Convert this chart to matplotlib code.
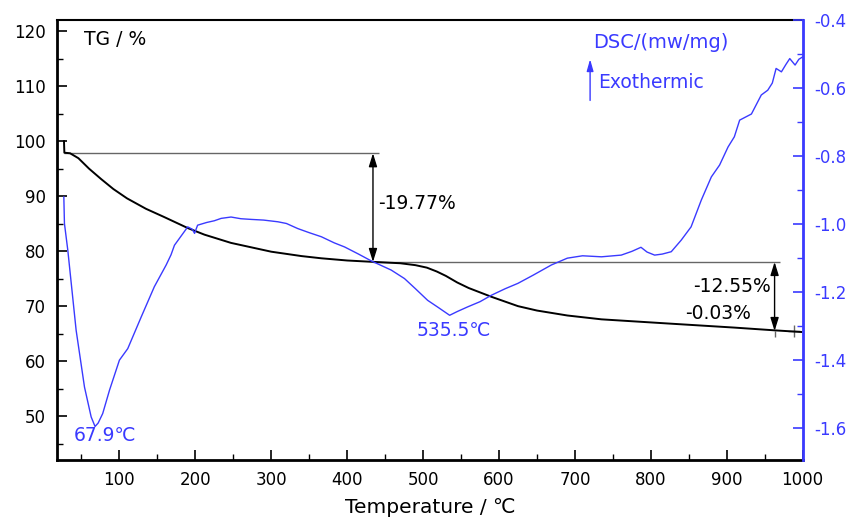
import numpy as np
import matplotlib
matplotlib.use('Agg')
from matplotlib import pyplot as plt
from matplotlib.ticker import MultipleLocator, FormatStrFormatter

# TG curve (mass %)
tg_temp = [27, 27.5, 35, 46, 60, 76, 92, 110, 135, 159, 190, 212, 247, 300, 340,
           366, 400, 434, 470, 490, 505, 518, 530, 545, 560, 590, 625, 650, 690, 735, 822, 910, 963, 998]
tg_mass = [100, 97.9, 97.8, 96.9, 95.0, 93.1, 91.3, 89.6, 87.7, 86.2, 84.2, 83.0, 81.5, 79.9, 79.1,
           78.7, 78.3, 78.05, 77.8, 77.45, 77.0, 76.3, 75.5, 74.3, 73.3, 71.7, 70.0, 69.2, 68.3,
           67.6, 66.85, 66.1, 65.6, 65.3]

# DSC curve (mw/mg)
dsc_temp = [26.8, 27.6, 32, 43, 54, 62.8, 67.9, 72, 78, 87, 100, 111, 128.7, 146, 161.6, 168,
            172.5, 190, 196, 199, 203, 215, 225, 234, 247, 260, 273.6, 290, 308.8, 320, 335,
            350, 366, 383, 396.6, 415, 431.7, 458, 475.5, 490, 506, 520, 535, 545, 559, 575,
            590, 608, 625, 645, 669, 690, 710, 735, 761, 775, 787, 795, 805, 815, 826.9, 840,
            853, 866.5, 879.7, 890.6, 901.7, 910, 917, 932.5, 945.5, 954, 960, 965, 972, 978,
            983, 990, 995, 1000]
dsc_heat = [-0.92, -0.998, -1.076, -1.312, -1.479, -1.567, -1.595, -1.585, -1.557, -1.488, -1.40,
            -1.366, -1.273, -1.184, -1.12, -1.09, -1.062, -1.008, -1.015, -1.027, -1.003, -0.995,
            -0.99, -0.983, -0.979, -0.984, -0.986, -0.988, -0.993, -0.998, -1.013, -1.025, -1.037,
            -1.055, -1.067, -1.088, -1.108, -1.135, -1.16, -1.19, -1.224, -1.245, -1.268, -1.257,
            -1.243, -1.228, -1.209, -1.19, -1.174, -1.15, -1.12, -1.10, -1.093, -1.096, -1.091,
            -1.08, -1.068, -1.082, -1.091, -1.088, -1.081, -1.047, -1.008, -0.929, -0.861, -0.826,
            -0.773, -0.743, -0.694, -0.676, -0.62, -0.606, -0.585, -0.542, -0.552, -0.53, -0.513,
            -0.532, -0.515, -0.508]

# mass levels of the weight-loss steps and their labels
step_levels = [97.8, 78.03, 65.48]
step_labels = ['-19.77%', '-12.55%', '-0.03%']
peak_labels = ['67.9\u2103', '535.5\u2103']

BLUE = '#3a3aff'
GREY = '#666666'

plt.rcParams['font.family'] = ['DejaVu Sans']

fig = plt.figure(figsize=(8.53, 5.17), dpi=100)
ax = fig.add_axes([0.067, 0.110, 0.874, 0.851])
ax2 = ax.twinx()

ax.plot(tg_temp, tg_mass, color='black', lw=1.4, zorder=3)
ax2.plot(dsc_temp, dsc_heat, color=BLUE, lw=1.0, zorder=3)

ax.set_xlim(18, 1000)
ax.set_ylim(42, 122)
ax2.set_ylim(-1.694, -0.4)

ax.xaxis.set_major_locator(MultipleLocator(100))
ax.xaxis.set_minor_locator(MultipleLocator(50))
ax.yaxis.set_major_locator(MultipleLocator(10))
ax.yaxis.set_minor_locator(MultipleLocator(5))
ax2.yaxis.set_major_locator(MultipleLocator(0.2))
ax2.yaxis.set_minor_locator(MultipleLocator(0.1))
ax2.yaxis.set_major_formatter(FormatStrFormatter('%.1f'))

ax.tick_params(axis='both', which='major', direction='in', length=7, width=1.2, labelsize=12, pad=8)
ax.tick_params(axis='both', which='minor', direction='in', length=4, width=1.0)
ax.tick_params(axis='y', right=False)
ax.tick_params(axis='x', top=False, which='both')
ax2.tick_params(axis='y', which='major', direction='in', length=7, width=1.2, labelsize=12,
                pad=8, colors=BLUE)
ax2.tick_params(axis='y', which='minor', direction='in', length=4, width=1.0, colors=BLUE)

ax.spines['left'].set_linewidth(2)
ax.spines['bottom'].set_linewidth(2)
ax.spines['top'].set_linewidth(1.5)
ax2.spines['right'].set_linewidth(2)
ax2.spines['right'].set_color(BLUE)
ax2.spines['left'].set_visible(False)
ax2.spines['bottom'].set_visible(False)
ax2.spines['top'].set_visible(False)

ax.set_xlabel('Temperature / \u2103', fontsize=14.5, labelpad=6)

# axis titles inside the frame
ax.text(53, 118.4, 'TG / %', fontsize=13.5, va='center', ha='left')
ax.text(724, 118.0, 'DSC/(mw/mg)', fontsize=14, va='center', ha='left', color=BLUE)
ax.text(730, 110.6, 'Exothermic', fontsize=13.5, va='center', ha='left', color=BLUE)
ax.annotate('', xy=(720, 115.4), xytext=(720, 106.9),
            arrowprops=dict(arrowstyle='-|>,head_length=0.7,head_width=0.2', color=BLUE, lw=1.0))

# weight-loss steps
ax.hlines(step_levels[0], 27, 442, color=GREY, lw=1.0, zorder=2)
ax.hlines(step_levels[1], 434, 970, color=GREY, lw=1.0, zorder=2)
arrow = dict(arrowstyle='<|-|>,head_length=0.8,head_width=0.25', color='black', lw=1.0,
             shrinkA=0, shrinkB=0)
ax.annotate('', xy=(434, step_levels[0]), xytext=(434, step_levels[1]), arrowprops=arrow)
ax.annotate('', xy=(963, step_levels[1]), xytext=(963, step_levels[2]), arrowprops=arrow)
ax.vlines(963, 64.3, step_levels[2], color=GREY, lw=1.0)
ax.plot([988], [65.4], marker='+', ms=9, color=GREY, mew=1.0)

ax.text(441, 88.7, step_labels[0], fontsize=13.5, va='center', ha='left')
ax.text(958, 73.5, step_labels[1], fontsize=13.5, va='center', ha='right')
ax.text(845, 68.6, step_labels[2], fontsize=13.5, va='center', ha='left')

# DSC peaks
ax.text(40, 46.5, peak_labels[0], fontsize=13.5, va='center', ha='left', color=BLUE)
ax.text(491, 65.6, peak_labels[1], fontsize=13.5, va='center', ha='left', color=BLUE)

fig.savefig('out.png', dpi=100)
